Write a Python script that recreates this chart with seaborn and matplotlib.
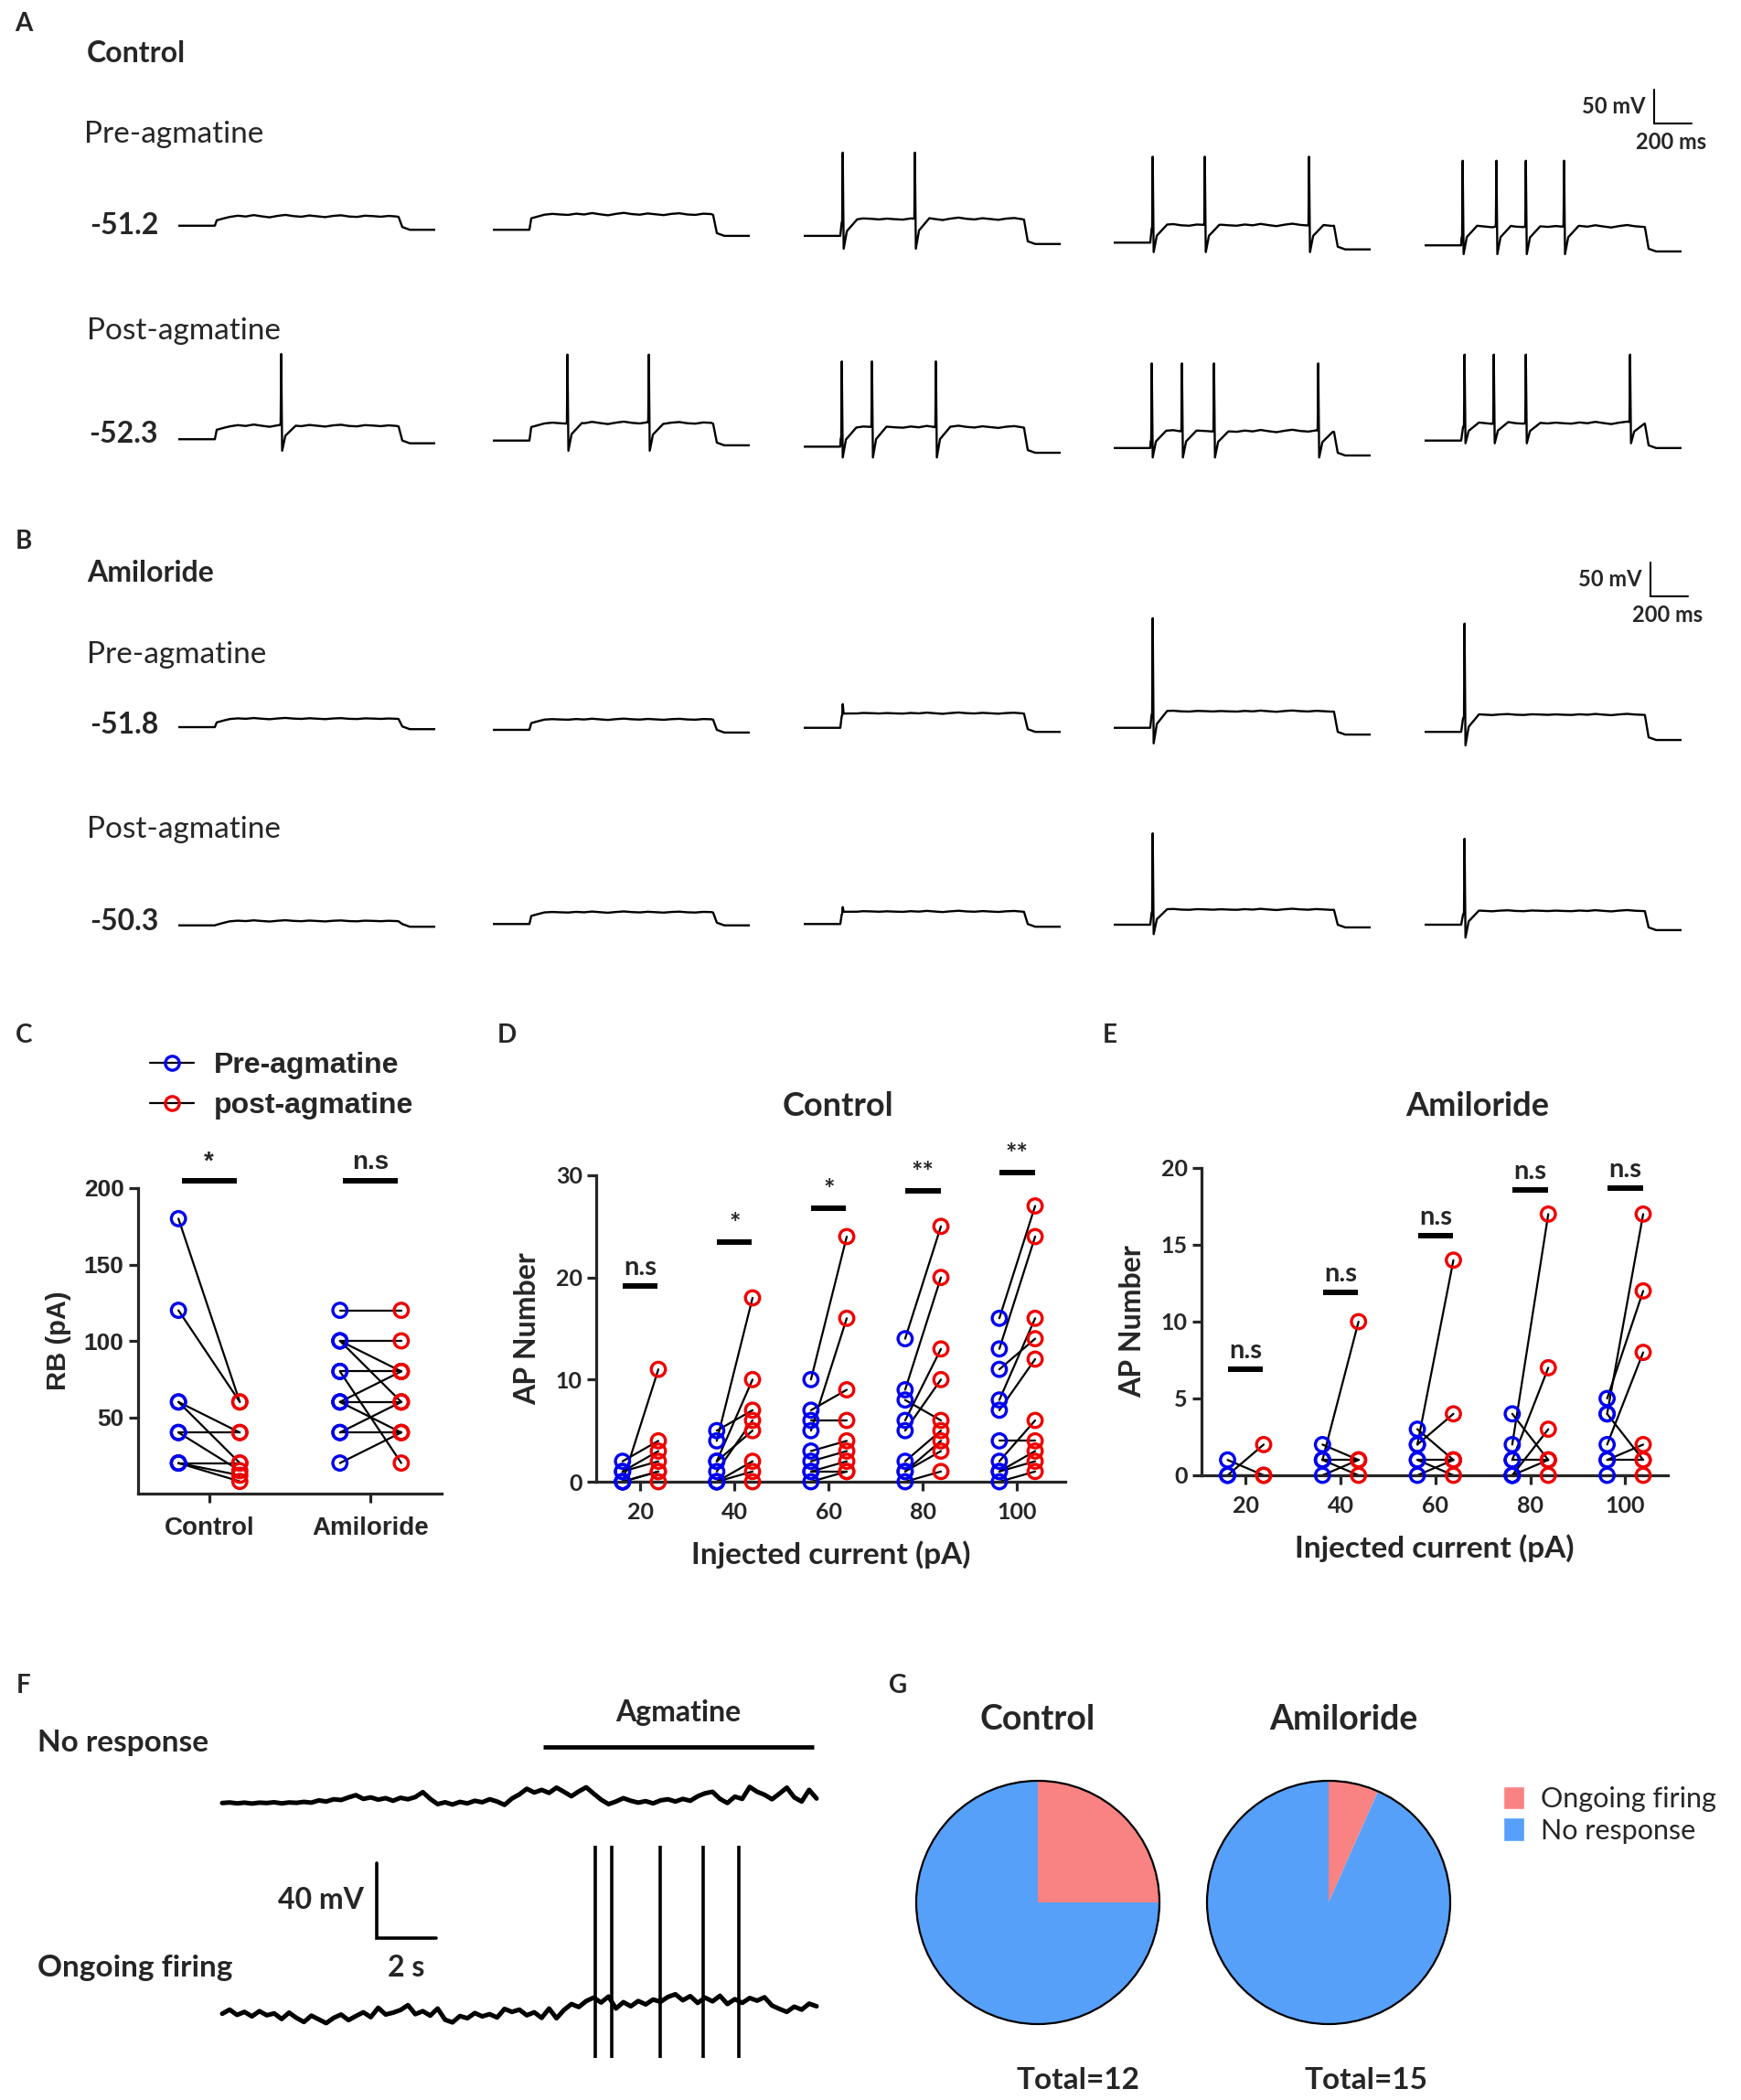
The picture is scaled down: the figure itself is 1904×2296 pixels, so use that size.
import numpy as np
import pandas as pd
import matplotlib
matplotlib.use("Agg")
import matplotlib.pyplot as plt
import seaborn as sns
from matplotlib.lines import Line2D
from matplotlib.patches import Patch, Circle

# ---------------- data ----------------
# A/B: current-clamp sweeps (offsets in mV from the row's resting level)
ROW_VM = ["-51.2", "-52.3", "-51.8", "-50.3"]
# (baseline, plateau, after-step, spike peak, spike trough) per sweep
A_PRE = [(3, 16, -3, 0, 0), (-3, 19, -12, 0, 0), (-12, 12, -24, 111, -31),
         (-22, 3, -32, 105, -36), (-26, 1, -35, 99, -39)]
A_POST = [(-3, 16, -9, 123, -20), (-5, 20, -12, 122, -20), (-14, 14, -23, 112, -30),
          (-16, 8, -27, 109, -30), (-5, 20, -16, 122, -9)]
B_PRE = [(0, 12, -3, 0, 0), (-4, 11, -8, 0, 0), (-1, 20, -7, 34, 20),
         (-1, 23, -11, 161, -24), (-7, 18, -19, 153, -27)]
B_POST = [(-1, 5, -3, 0, 0), (1, 18, -1, 0, 0), (1, 19, -3, 26, 19),
          (0, 22, -4, 135, -14), (0, 20, -8, 127, -19)]
A_PRE_SPIKES = [[], [], [205, 590], [205, 483, 1039], [200, 380, 537, 741]]
A_POST_SPIKES = [[546], [395, 829], [200, 361, 702], [200, 361, 532, 1088], [210, 366, 537, 1093]]
B_PRE_SPIKES = [[], [], [205], [205], [210]]
B_POST_SPIKES = [[], [], [205], [205], [210]]
RIPPLE = [0, 1.2, 0.4, 1.8, 0.6, -0.4, 1.0, 2.0, 0.8, 0.2, 1.4, 0.6,
          -0.2, 1.0, 1.6, 0.4, 0.0, 1.2, 0.8, 0.2, 1.0, 0.4]

# C: rheobase (pA), paired pre / post
C_GROUPS = ["Control", "Amiloride"]
C_CTRL_PRE = [180, 120, 60, 60, 40, 40, 20, 20, 20]
C_CTRL_POST = [60, 60, 40, 20, 40, 15, 20, 12, 8]
C_AMI_PRE = [120, 100, 100, 100, 80, 80, 60, 60, 60, 40, 40, 20]
C_AMI_POST = [120, 100, 80, 60, 80, 20, 80, 60, 40, 40, 60, 40]
C_SIG = ["*", "n.s"]

# D / E: AP number vs injected current
CURRENTS = [20, 40, 60, 80, 100]
D_PRE = [[0, 2, 1, 1, 0, 0, 0],
         [4, 2, 5, 1, 2, 0, 0, 0],
         [10, 7, 5, 6, 3, 2, 1, 1, 0],
         [14, 9, 6, 5, 8, 2, 1, 1, 0],
         [16, 13, 11, 8, 7, 4, 2, 1, 1, 0]]
D_POST = [[11, 4, 3, 2, 1, 1, 0],
          [18, 10, 7, 6, 5, 2, 1, 0],
          [24, 9, 16, 6, 4, 3, 2, 1, 1],
          [25, 20, 13, 10, 6, 5, 4, 3, 1],
          [27, 24, 14, 16, 12, 4, 6, 3, 2, 1]]
D_SIG = ["n.s", "*", "*", "**", "**"]
D_SIG_Y = [19.2, 23.5, 26.8, 28.5, 30.3]
E_PRE = [[0, 1, 0],
         [1, 2, 1, 0, 1],
         [2, 2, 3, 1, 1, 0],
         [2, 1, 4, 0, 0, 1, 0],
         [4, 5, 2, 4, 1, 1, 0]]
E_POST = [[2, 0, 0],
          [10, 1, 0, 1, 1],
          [14, 4, 1, 1, 0, 1],
          [17, 7, 1, 3, 1, 1, 0],
          [17, 12, 8, 1, 2, 1, 0]]
E_SIG = ["n.s", "n.s", "n.s", "n.s", "n.s"]
E_SIG_Y = [6.9, 11.9, 15.6, 18.6, 18.7]

# F: membrane potential traces, one value every 0.25 s over 20 s (mV)
NR_V = [0.0, 0.3, -0.2, 0.2, -0.3, 0.2, 0.0, 0.4, -0.2, 0.3, 0.1, 0.6, 0.2,
        1.4, 0.8, 2.0, 1.6, 3.0, 4.2, 2.2, 3.0, 1.8, 2.6, 1.2, 2.8, 2.0, 3.2,
        5.8, 2.2, -0.6, 0.4, -0.8, 0.6, -0.2, 1.2, 0.4, 2.0, 0.8, -1.0, 2.4,
        4.6, 7.6, 5.6, 7.0, 5.4, 8.2, 6.0, 3.6, 6.2, 8.4, 5.0, 1.8, -0.6, 0.8,
        2.6, 1.2, 0.2, 1.0, -0.2, 1.4, 2.0, 0.8, 2.2, 1.2, 3.6, 5.2, 6.0, 2.2,
        0.0, 3.4, 2.2, 8.6, 6.0, 4.4, 2.0, 5.0, 8.2, 3.0, 0.8, 7.0, 2.4]
OF_V = [1.6, 3.8, 1.0, 2.6, 0.2, 3.0, 0.8, 1.8, -1.2, 2.2, -0.6, -2.8, 0.6,
        -1.4, -3.4, -0.6, 1.2, -1.8, 0.4, 2.4, -0.2, 4.8, 1.2, 2.2, 3.6, 6.2,
        1.4, 3.0, 0.6, 4.4, -1.6, -3.0, 0.4, -0.8, 2.0, 0.2, 1.4, -0.4, 4.2,
        2.6, 3.8, 0.8, 2.4, -0.6, 4.4, -0.8, 3.6, 6.8, 5.2, 8.4, 10.2, 7.6,
        10.8, 4.4, 7.8, 5.6, 8.4, 6.6, 9.2, 8.0, 10.6, 12.0, 8.8, 11.0, 7.4,
        10.2, 8.2, 11.2, 6.8, 9.4, 7.4, 10.0, 8.6, 10.4, 6.0, 4.2, 2.6, 5.4,
        3.8, 7.0, 5.6]
F_DURATION = 20.0
OF_SPIKES = [12.55, 13.1, 14.74, 16.19, 17.39]
NR_OFFSET = 114
AGMATINE_ON, AGMATINE_OFF = 10.8, 19.9

# G: response proportions
PIE_LABELS = ["Ongoing firing", "No response"]
PIE_CTRL = [3, 9]
PIE_AMI = [1, 14]

BLUE, RED = "#0000EE", "#EE0000"
PINK, SKY = "#F98282", "#56A0F9"

# ---------------- layout helpers ----------------
W, H = 1904, 2296
sns.set_theme(style="ticks")
plt.rcParams["font.family"] = ["Lato", "DejaVu Sans"]
fig = plt.figure(figsize=(W / 100, H / 100), dpi=100)


def add_ax(left, top, width, height):
    return fig.add_axes([left / W, 1 - (top + height) / H, width / W, height / H])


def ftext(x, y, s, **kw):
    kw.setdefault("va", "center")
    fig.text(x / W, 1 - y / H, s, **kw)


# ---------------- A / B traces ----------------
SWEEP_MS = 1370
PX_PER_MS = 0.205
PX_PER_MV = 0.74
T_ON, T_OFF = 195, 1175
SWEEP_X = [195, 539, 879, 1218, 1558]
ROW_REF = [249, 478, 795, 1011]
Y_LO, Y_HI = -60, 180


def build_sweep(params, spikes, ripple_amp, k):
    base, plat, post, peak, trough = params
    rip = np.roll(np.array(RIPPLE), 3 * k)
    t = [0, T_ON - 5, T_ON, T_ON + 10, T_ON + 50]
    v = [base, base, base, plat - 5, plat - 2]
    t += list(np.linspace(T_ON + 80, T_OFF - 10, len(rip)))
    v += list(plat + ripple_amp * rip)
    t += [T_OFF, T_OFF + 20, T_OFF + 60, SWEEP_MS]
    v += [plat, post + 4, post, post]
    t, v = np.array(t, float), np.array(v, float)
    for s in spikes:
        v_here = np.interp(s, t, v)
        v_after = np.interp(s + 80, t, v)
        keep = (t < s - 3) | (t > s + 80)
        t = np.concatenate([t[keep], [s - 3, s, s + 3, s + 8, s + 25, s + 80]])
        v = np.concatenate([v[keep], [v_here, v_here + 3, peak, trough,
                                      trough + 0.6 * (v_after - trough), v_after]])
        order = np.argsort(t)
        t, v = t[order], v[order]
    return t, v


rows = [(A_PRE, A_PRE_SPIKES, 1.5), (A_POST, A_POST_SPIKES, 1.5),
        (B_PRE, B_PRE_SPIKES, 0.8), (B_POST, B_POST_SPIKES, 0.8)]
sweep_axes = {}
for r, (params, spikes, ramp) in enumerate(rows):
    ref = ROW_REF[r]
    for k in range(5):
        ax = add_ax(SWEEP_X[k], ref - Y_HI * PX_PER_MV, SWEEP_MS * PX_PER_MS,
                    (Y_HI - Y_LO) * PX_PER_MV)
        t, v = build_sweep(params[k], spikes[k], ramp, k)
        sns.lineplot(x=t, y=v, sort=False, estimator=None, color="black",
                     lw=1.7, ax=ax)
        ax.set_xlim(0, SWEEP_MS)
        ax.set_ylim(Y_LO, Y_HI)
        ax.axis("off")
        sweep_axes[(r, k)] = ax
    ftext(173, ref - 3, ROW_VM[r], ha="right", fontsize=23, fontweight="bold")


def scale_bar(ax, x0, y0, text_dy):
    ax.plot([x0, x0, x0 + 200], [y0 + 50, y0, y0], color="black", lw=1.5,
            clip_on=False, solid_joinstyle="miter")
    ax.text(x0 - 45, y0 + 25, "50 mV", ha="right", va="center", fontsize=17,
            fontweight="bold")
    ax.text(x0 + 90, y0 - text_dy, "200 ms", ha="center", va="center",
            fontsize=17, fontweight="bold")


scale_bar(sweep_axes[(0, 4)], 1224, 154, 27)
scale_bar(sweep_axes[(2, 4)], 1205, 193, 27)

ftext(26, 26, "A", ha="center", fontsize=20, fontweight="bold")
ftext(95, 59, "Control", fontsize=23, fontweight="bold")
ftext(92, 147, "Pre-agmatine", fontsize=24)
ftext(95, 362, "Post-agmatine", fontsize=24)
ftext(26, 592, "B", ha="center", fontsize=20, fontweight="bold")
ftext(95, 627, "Amiloride", fontsize=23, fontweight="bold")
ftext(95, 716, "Pre-agmatine", fontsize=24)
ftext(95, 907, "Post-agmatine", fontsize=24)


# ---------------- C / D / E paired plots ----------------
def paired_frame(centers, pre_lists, post_lists, off):
    recs = []
    for gi, (cx, pre, post) in enumerate(zip(centers, pre_lists, post_lists)):
        for i, (a, b) in enumerate(zip(pre, post)):
            uid = f"{gi}-{i}"
            recs.append(dict(uid=uid, phase="pre", x=cx - off, y=a))
            recs.append(dict(uid=uid, phase="post", x=cx + off, y=b))
    return pd.DataFrame(recs)


def paired_plot(ax, df):
    sns.lineplot(data=df, x="x", y="y", units="uid", estimator=None, sort=False,
                 color="black", lw=1.6, ax=ax, legend=False)
    sns.scatterplot(data=df, x="x", y="y", hue="phase",
                    palette={"pre": BLUE, "post": RED}, s=125, ax=ax,
                    legend=False, zorder=3, clip_on=False)
    coll = ax.collections[-1]
    fc = coll.get_facecolors()
    coll.set_edgecolors(fc)
    coll.set_facecolors("none")
    coll.set_linewidths(2.4)
    for ln in ax.lines:
        ln.set_clip_on(False)


def style_axes(ax, family, tick_size):
    sns.despine(ax=ax)
    for side in ["left", "bottom"]:
        ax.spines[side].set_linewidth(2.3)
    ax.tick_params(width=2.3, length=7, labelsize=tick_size, pad=4)
    ax.tick_params(axis="x", pad=9)
    for lab in ax.get_xticklabels() + ax.get_yticklabels():
        lab.set_fontweight("bold")
        lab.set_family(family)
    ax.set_xlabel("")
    ax.set_ylabel("")


def sig_marks(ax, centers, labels, ys, half, family, size):
    for cx, lab, y in zip(centers, labels, ys):
        ax.plot([cx - half, cx + half], [y, y], color="black", lw=4.3,
                solid_capstyle="butt", clip_on=False)
        ax.annotate(lab, (cx, y), xytext=(0, 5), textcoords="offset points",
                    ha="center", va="bottom", fontsize=size, fontweight="bold",
                    family=family, annotation_clip=False)


ARIAL = ["Liberation Sans", "DejaVu Sans"]

# C
axC = add_ax(151, 1299, 332, 334)
dfC = paired_frame([0, 1], [C_CTRL_PRE, C_AMI_PRE], [C_CTRL_POST, C_AMI_POST], 0.19)
paired_plot(axC, dfC)
axC.set_xlim(-0.44, 1.44)
axC.set_ylim(0, 200)
axC.set_yticks([50, 100, 150, 200])
axC.set_xticks([0, 1])
axC.set_xticklabels(C_GROUPS)
style_axes(axC, ARIAL, 19)
axC.tick_params(axis="x", labelsize=20, pad=11)
axC.set_ylabel("RB (pA)", fontsize=21, fontweight="bold", family=ARIAL, labelpad=10)
sig_marks(axC, [0, 1], C_SIG, [205, 205], 0.17, ARIAL, 20)

handles = [Line2D([0], [0], color="black", lw=1.6, marker="o", mfc="none",
                  mec=c, mew=2.4, ms=11) for c in (BLUE, RED)]
fig.legend(handles, ["Pre-agmatine", "post-agmatine"], loc="upper left",
           bbox_to_anchor=(164 / W, 1 - 1150 / H), frameon=False,
           prop=dict(family=ARIAL, weight="bold", size=23), handlelength=1.5,
           handletextpad=0.7, labelspacing=0.45, borderpad=0, borderaxespad=0)


def current_panel(left, top, width, height, pre, post, ymax, yticks, xlim,
                  sig, sig_y):
    ax = add_ax(left, top, width, height)
    df = paired_frame(CURRENTS, pre, post, 3.8)
    paired_plot(ax, df)
    ax.set_xlim(*xlim)
    ax.set_ylim(0, ymax)
    ax.set_yticks(yticks)
    ax.set_xticks(CURRENTS)
    style_axes(ax, ["Lato", "DejaVu Sans"], 18)
    ax.set_ylabel("AP Number", fontsize=23, fontweight="bold", labelpad=12)
    ax.set_xlabel("Injected current (pA)", fontsize=24, fontweight="bold",
                  labelpad=14)
    sig_marks(ax, CURRENTS, sig, sig_y, 3.7, ["Lato", "DejaVu Sans"], 21)
    return ax


current_panel(652, 1285, 513, 335, D_PRE, D_POST, 30, [0, 10, 20, 30],
              (10.6, 110.2), D_SIG, D_SIG_Y)
current_panel(1314, 1277, 510, 336, E_PRE, E_POST, 20, [0, 5, 10, 15, 20],
              (10.7, 109), E_SIG, E_SIG_Y)
ftext(916, 1210, "Control", ha="center", fontsize=26, fontweight="bold")
ftext(1616, 1210, "Amiloride", ha="center", fontsize=26, fontweight="bold")

ftext(26, 1132, "C", ha="center", fontsize=20, fontweight="bold")
ftext(554, 1132, "D", ha="center", fontsize=20, fontweight="bold")
ftext(1214, 1132, "E", ha="center", fontsize=20, fontweight="bold")

# ---------------- F ----------------
F_PX_PER_S = 32.5
F_PX_PER_MV = 2.05
F_T0_PX, F_V0_PX = 243, 2205
axF = add_ax(0, 1840, 940, 456)
axF.set_xlim((0 - F_T0_PX) / F_PX_PER_S, (940 - F_T0_PX) / F_PX_PER_S)
axF.set_ylim((F_V0_PX - 2296) / F_PX_PER_MV, (F_V0_PX - 1840) / F_PX_PER_MV)
axF.axis("off")
f_time = np.linspace(0, F_DURATION, len(NR_V))
sns.lineplot(x=f_time, y=np.array(NR_V) + NR_OFFSET, sort=False, estimator=None,
             color="black", lw=3.6, ax=axF)
sns.lineplot(x=f_time, y=OF_V, sort=False, estimator=None, color="black",
             lw=3.6, ax=axF)
axF.vlines(OF_SPIKES, -22, 91, color="black", lw=2.6)
axF.plot([AGMATINE_ON, AGMATINE_OFF], [144, 144], color="black", lw=3.4,
         solid_capstyle="butt")
axF.text((AGMATINE_ON + AGMATINE_OFF) / 2, 162, "Agmatine", ha="center",
         va="center", fontsize=23, fontweight="bold")
axF.plot([5.2, 5.2, 7.2], [82, 42, 42], color="black", lw=2.6,
         solid_joinstyle="miter")
axF.text(4.75, 62, "40 mV", ha="right", va="center", fontsize=23,
         fontweight="bold")
axF.text(6.2, 26, "2 s", ha="center", va="center", fontsize=23,
         fontweight="bold")
ftext(26, 1843, "F", ha="center", fontsize=20, fontweight="bold")
ftext(41, 1906, "No response", fontsize=24, fontweight="bold")
ftext(41, 2152, "Ongoing firing", fontsize=24, fontweight="bold")

# ---------------- G ----------------
PIE_R = 133
for cx, vals, total_x in [(1135, PIE_CTRL, 1179), (1453, PIE_AMI, 1494)]:
    ax = add_ax(cx - 150, 2080 - 150, 300, 300)
    ax.pie(vals, colors=[PINK, SKY], startangle=90, counterclock=False,
           radius=1, wedgeprops=dict(linewidth=0))
    ax.add_patch(Circle((0, 0), 1, fill=False, lw=1.6, ec="black"))
    lim = 150 / PIE_R
    ax.set_xlim(-lim, lim)
    ax.set_ylim(-lim, lim)
    ax.set_aspect("equal")
    ax.axis("off")
    ftext(total_x, 2275, f"Total={sum(vals)}", ha="center", fontsize=24,
          fontweight="bold")
ftext(1135, 1880, "Control", ha="center", fontsize=27, fontweight="bold")
ftext(1469, 1880, "Amiloride", ha="center", fontsize=27, fontweight="bold")
ftext(982, 1843, "G", ha="center", fontsize=20, fontweight="bold")
fig.legend([Patch(fc=PINK), Patch(fc=SKY)], PIE_LABELS, loc="upper left",
           bbox_to_anchor=(1644 / W, 1 - 1953 / H), frameon=False, fontsize=22,
           handlelength=0.75, handleheight=0.9, handletextpad=0.6,
           labelspacing=0.2, borderpad=0, borderaxespad=0)

fig.savefig("out.png", dpi=100)
